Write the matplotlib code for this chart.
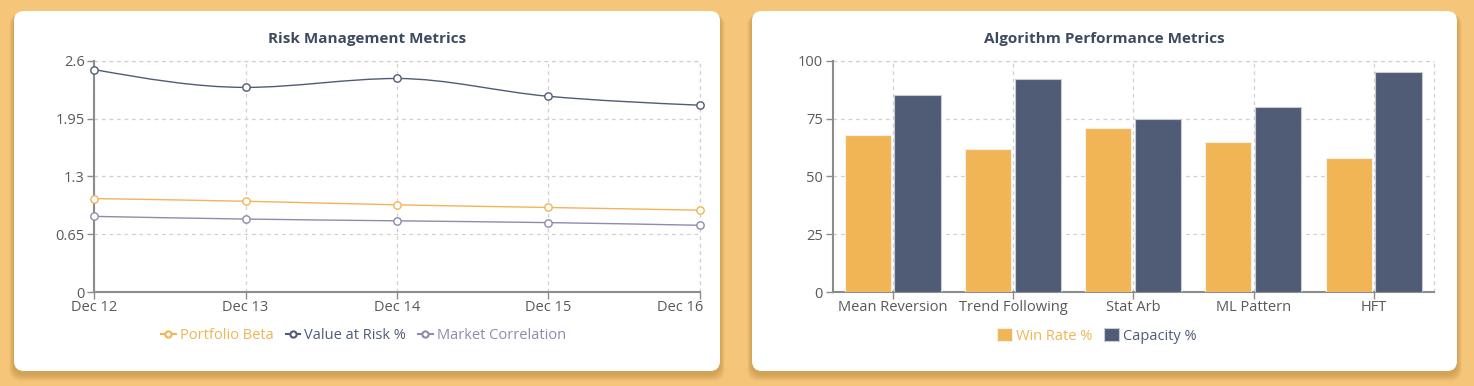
import matplotlib
matplotlib.use('Agg')
import matplotlib.pyplot as plt
import matplotlib.transforms as mtransforms
import numpy as np
from matplotlib.patches import FancyBboxPatch, PathPatch
from matplotlib.path import Path
from matplotlib.lines import Line2D

plt.rcParams['font.family'] = ['Open Sans', 'DejaVu Sans']

# --- data ---
dates = ['Dec 12', 'Dec 13', 'Dec 14', 'Dec 15', 'Dec 16']
portfolio_beta = [1.05, 1.02, 0.98, 0.95, 0.92]
value_at_risk = [2.50, 2.30, 2.40, 2.20, 2.10]
market_corr = [0.85, 0.82, 0.80, 0.78, 0.75]
risk_ticks = [0, 0.65, 1.3, 1.95, 2.6]

algos = ['Mean Reversion', 'Trend Following', 'Stat Arb', 'ML Pattern', 'HFT']
win_rate = [68, 62, 71, 65, 58]
capacity = [85, 92, 75, 80, 95]
perf_ticks = [0, 25, 50, 75, 100]

ORANGE = '#F1B556'
NAVY = '#505C75'
LAVENDER = '#8E8BAD'
BG = '#F5C67A'
TITLE = '#3E4A60'
TICK = '#595959'
AXIS = '#8c8c8c'
GRID = '#d0d0d0'

W, H = 1474, 386
fig = plt.figure(figsize=(W / 100, H / 100), dpi=100)
fig.patch.set_facecolor(BG)

# background layer in pixel units for the cards
bg = fig.add_axes([0, 0, 1, 1])
bg.set_xlim(0, W)
bg.set_ylim(H, 0)
bg.axis('off')


def card(x0, y0, x1, y1, title):
    # soft shadow
    for i in range(8, 0, -1):
        bg.add_patch(FancyBboxPatch((x0 - i * 0.6, y0 + 3), x1 - x0 + i * 1.2, y1 - y0 + i * 0.9,
                                    boxstyle='round,pad=0,rounding_size=12',
                                    fc='#8a5a10', ec='none', alpha=0.045))
    bg.add_patch(FancyBboxPatch((x0, y0), x1 - x0, y1 - y0,
                                boxstyle='round,pad=0,rounding_size=10',
                                fc='white', ec='none'))
    bg.text((x0 + x1) / 2, 39, title, ha='center', va='center', fontsize=11,
            fontweight='bold', color=TITLE)


card(14, 11, 720, 371, 'Risk Management Metrics')
card(752, 11, 1457, 371, 'Algorithm Performance Metrics')


def monotone_path(xs, ys):
    # cubic monotone-x curve (like d3.curveMonotoneX)
    xs = np.asarray(xs, float)
    ys = np.asarray(ys, float)
    n = len(xs)
    h = np.diff(xs)
    s = np.diff(ys) / h
    t = np.zeros(n)
    for i in range(1, n - 1):
        if s[i - 1] * s[i] <= 0:
            t[i] = 0
        else:
            p = (s[i - 1] * h[i] + s[i] * h[i - 1]) / (h[i - 1] + h[i])
            t[i] = (np.sign(s[i - 1]) + np.sign(s[i])) * min(abs(s[i - 1]), abs(s[i]), 0.5 * abs(p))
    t[0] = (3 * s[0] - t[1]) / 2 if n > 2 else s[0]
    t[-1] = (3 * s[-1] - t[-2]) / 2 if n > 2 else s[-1]
    verts = [(xs[0], ys[0])]
    codes = [Path.MOVETO]
    for i in range(n - 1):
        dx = h[i] / 3
        verts += [(xs[i] + dx, ys[i] + t[i] * dx), (xs[i + 1] - dx, ys[i + 1] - t[i + 1] * dx), (xs[i + 1], ys[i + 1])]
        codes += [Path.CURVE4] * 3
    return Path(verts, codes)


def style_axes(ax):
    for side in ['top', 'right']:
        ax.spines[side].set_visible(False)
    for side in ['left', 'bottom']:
        ax.spines[side].set_color(AXIS)
        ax.spines[side].set_linewidth(1.5)
    ax.tick_params(colors=AXIS, labelcolor=TICK, labelsize=10.5, length=5, width=1)
    ax.set_facecolor('none')


# --- left: risk metrics ---
ax1 = fig.add_axes([94.3 / W, 1 - 292 / H, 605.2 / W, 231.3 / H])
style_axes(ax1)
x = np.arange(len(dates))
ax1.set_xlim(0, len(dates) - 1)
ax1.set_ylim(0, 2.6)
ax1.set_yticks(risk_ticks)
ax1.set_yticklabels(['0', '0.65', '1.3', '1.95', '2.6'])
ax1.set_xticks(x)
ax1.set_xticklabels(dates)
ax1.tick_params(axis='x', pad=1)
ax1.tick_params(axis='y', pad=2)
# keep last date label inside the card
last = ax1.get_xticklabels()[-1]
last.set_horizontalalignment('right')
last.set_transform(last.get_transform() + mtransforms.ScaledTranslation(4 / 100, 0, fig.dpi_scale_trans))
ax1.grid(True, color=GRID, linestyle=(0, (3, 3)), linewidth=0.9)
ax1.axhline(2.6, color=GRID, linestyle=(0, (3, 3)), linewidth=0.9, clip_on=False)
ax1.axvline(len(dates) - 1, color=GRID, linestyle=(0, (3, 3)), linewidth=0.9, clip_on=False)
ax1.set_axisbelow(True)

series = [('Portfolio Beta', portfolio_beta, ORANGE),
          ('Value at Risk %', value_at_risk, NAVY),
          ('Market Correlation', market_corr, LAVENDER)]
handles = []
for name, vals, col in series:
    ax1.add_patch(PathPatch(monotone_path(x, vals), fc='none', ec=col, lw=1.0, zorder=3, clip_on=False))
    ax1.plot(x, vals, linestyle='none', marker='o', ms=5.3, mfc='white', mec=col, mew=1.0,
             zorder=4, clip_on=False)
    handles.append(Line2D([], [], color=col, lw=1.5, marker='o', ms=4.5, mfc='white', mec=col, mew=1.5))

leg1 = ax1.legend(handles, [s[0] for s in series], loc='upper center', bbox_to_anchor=(0.445, -0.10),
                  ncol=3, frameon=False, fontsize=10.5, handlelength=1.0, handletextpad=0.3,
                  columnspacing=0.8)
for txt, (_, _, col) in zip(leg1.get_texts(), series):
    txt.set_color(col)

# --- right: algorithm performance ---
ax2 = fig.add_axes([832.7 / W, 1 - 292 / H, 601.3 / W, 231.3 / H])
style_axes(ax2)
xc = np.arange(len(algos))
ax2.set_xlim(-0.5, len(algos) - 0.5)
ax2.set_ylim(0, 100)
ax2.set_yticks(perf_ticks)
ax2.set_xticks(xc)
ax2.set_xticklabels(algos)
ax2.tick_params(axis='x', pad=1)
ax2.tick_params(axis='y', pad=2)
ax2.grid(True, color=GRID, linestyle=(0, (3, 3)), linewidth=0.9)
ax2.axhline(100, color=GRID, linestyle=(0, (3, 3)), linewidth=0.9, clip_on=False)
ax2.axvline(len(algos) - 0.5, color=GRID, linestyle=(0, (3, 3)), linewidth=0.9, clip_on=False)
ax2.set_axisbelow(True)

bw = 0.383
ax2.bar(xc - 0.21, win_rate, width=bw, color=ORANGE, edgecolor='#f3f0ea', linewidth=0.8,
        label='Win Rate %', zorder=3)
ax2.bar(xc + 0.205, capacity, width=bw, color=NAVY, edgecolor='#c9ccd4', linewidth=0.8,
        label='Capacity %', zorder=3)

leg2 = ax2.legend(loc='upper center', bbox_to_anchor=(0.44, -0.10), ncol=2, frameon=False,
                  fontsize=10.5, handlelength=1.0, handleheight=1.0, handletextpad=0.3,
                  columnspacing=0.8)
for txt, col in zip(leg2.get_texts(), [ORANGE, NAVY]):
    txt.set_color(col)

fig.savefig('out.png', dpi=100, facecolor=BG)
